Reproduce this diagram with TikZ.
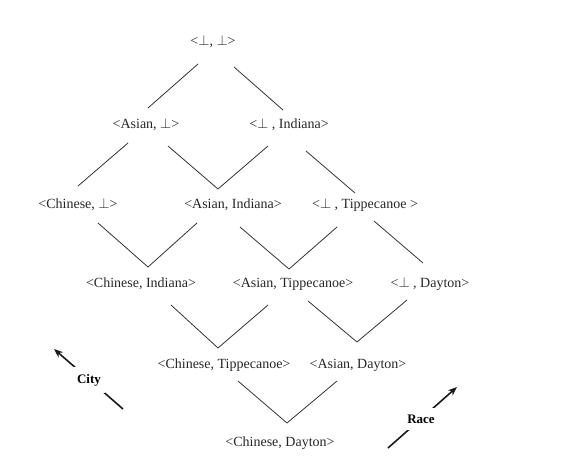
\documentclass[tikz,border=0pt]{standalone}
\usepackage{fontspec}
\setmainfont{Liberation Serif}
\usetikzlibrary{arrows.meta,calc}

\begin{document}
\begin{tikzpicture}[x=1pt, y=-1pt,
    elem/.style={inner sep=0pt, font=\fontsize{14}{16}\selectfont, text=black!85},
    edge/.style={draw=black!80, line width=0.8pt},
    axisarrow/.style={draw=black!90, line width=1.6pt, -{Stealth[length=9pt,width=7pt]}},
    axislbl/.style={fill=white, inner xsep=4pt, inner ysep=7pt, font=\fontsize{13}{15}\selectfont\bfseries}
  ]
  \useasboundingbox (0,0) rectangle (576,468);

  % lattice elements
  \node[elem] (bb) at (213,42)  {<$\perp$, $\perp$>};
  \node[elem] (ab) at (146,125) {<Asian, $\perp$>};
  \node[elem] (bi) at (289,125) {<$\perp$ , Indiana>};
  \node[elem] (cb) at (78,205)  {<Chinese, $\perp$>};
  \node[elem] (ai) at (233,205) {<Asian, Indiana>};
  \node[elem] (bt) at (365,205) {<$\perp$ , Tippecanoe >};
  \node[elem] (ci) at (141,284) {<Chinese, Indiana>};
  \node[elem] (at) at (293,284) {<Asian, Tippecanoe>};
  \node[elem] (bd) at (430,284) {<$\perp$ , Dayton>};
  \node[elem] (ct) at (224,365) {<Chinese, Tippecanoe>};
  \node[elem] (ad) at (358,365) {<Asian, Dayton>};
  \node[elem] (cd) at (280,443) {<Chinese, Dayton>};

  % points where the edges arrive
  \coordinate (ab-in) at ([xshift=2pt,yshift=17pt]ab.center);
  \coordinate (bi-in) at ([xshift=-6pt,yshift=15pt]bi.center);
  \coordinate (cb-in) at ([xshift=0pt,yshift=19pt]cb.center);
  \coordinate (ai-in) at ([xshift=-15pt,yshift=16pt]ai.center);
  \coordinate (bt-in) at ([xshift=-10pt,yshift=12pt]bt.center);
  \coordinate (ci-in) at ([xshift=7pt,yshift=17pt]ci.center);
  \coordinate (at-in) at ([xshift=-4pt,yshift=15pt]at.center);
  \coordinate (bd-in) at ([xshift=-7pt,yshift=21pt]bd.center);
  \coordinate (ct-in) at ([xshift=-6pt,yshift=17pt]ct.center);
  \coordinate (ad-in) at ([xshift=-1pt,yshift=23pt]ad.center);
  \coordinate (cd-in) at ([xshift=7pt,yshift=20pt]cd.center);

  % edges
  \draw[edge] ([xshift=-15pt,yshift=-22pt]bb.center) -- (ab-in);
  \draw[edge] ([xshift=21pt,yshift=-25pt]bb.center) -- (bi-in);
  \draw[edge] ([xshift=-18pt,yshift=-18pt]ab.center) -- (cb-in);
  \draw[edge] ([xshift=22pt,yshift=-21pt]ab.center) -- (ai-in);
  \draw[edge] ([xshift=-21pt,yshift=-21pt]bi.center) -- (ai-in);
  \draw[edge] ([xshift=17pt,yshift=-26pt]bi.center) -- (bt-in);
  \draw[edge] ([xshift=20pt,yshift=-18pt]cb.center) -- (ci-in);
  \draw[edge] ([xshift=-36pt,yshift=-18pt]ai.center) -- (ci-in);
  \draw[edge] ([xshift=7pt,yshift=-22pt]ai.center) -- (at-in);
  \draw[edge] ([xshift=-28pt,yshift=-22pt]bt.center) -- (at-in);
  \draw[edge] ([xshift=9pt,yshift=-16pt]bt.center) -- (bd-in);
  \draw[edge] ([xshift=30pt,yshift=-21pt]ci.center) -- (ct-in);
  \draw[edge] ([xshift=-25pt,yshift=-21pt]at.center) -- (ct-in);
  \draw[edge] ([xshift=15pt,yshift=-17pt]at.center) -- (ad-in);
  \draw[edge] ([xshift=-23pt,yshift=-16pt]bd.center) -- (ad-in);
  \draw[edge] ([xshift=14pt,yshift=-16pt]ct.center) -- (cd-in);
  \draw[edge] ([xshift=-21pt,yshift=-16pt]ad.center) -- (cd-in);

  % dimension arrows
  \coordinate (city-foot) at (123,409);
  \coordinate (city-head) at (54,349);
  \coordinate (race-foot) at (388,448);
  \coordinate (race-head) at (457,387);
  \draw[axisarrow] (city-foot) -- (city-head);
  \draw[axisarrow] (race-foot) -- (race-head);
  \node[axislbl] (city) at (89,380) {City};
  \node[axislbl] (race) at (421,419) {Race};
\end{tikzpicture}
\end{document}
